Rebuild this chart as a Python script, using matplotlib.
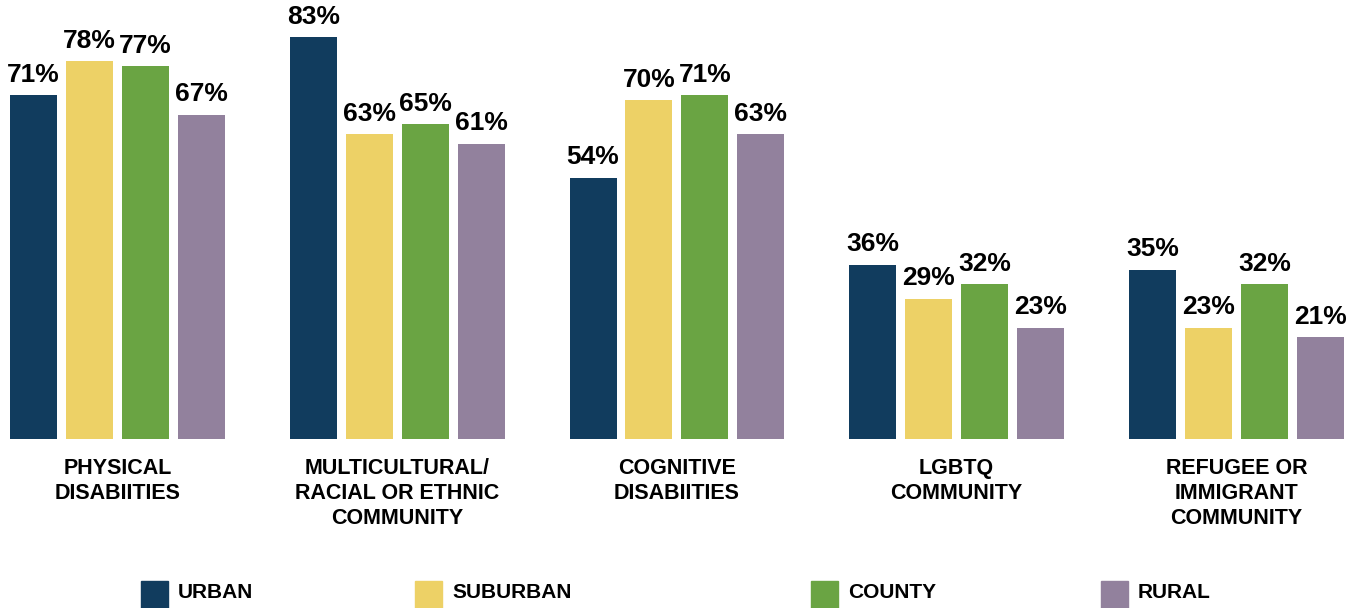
import matplotlib
matplotlib.use("Agg")
import matplotlib.pyplot as plt
from matplotlib.patches import Rectangle

plt.rcParams['font.family'] = ['Liberation Sans', 'DejaVu Sans']
plt.rcParams['font.weight'] = 'bold'

categories = ["PHYSICAL\nDISABIITIES",
              "MULTICULTURAL/\nRACIAL OR ETHNIC\nCOMMUNITY",
              "COGNITIVE\nDISABIITIES",
              "LGBTQ\nCOMMUNITY",
              "REFUGEE OR\nIMMIGRANT\nCOMMUNITY"]
series = ["URBAN", "SUBURBAN", "COUNTY", "RURAL"]
urban = [71, 83, 54, 36, 35]
suburban = [78, 63, 70, 29, 23]
county = [77, 65, 71, 32, 32]
rural = [67, 61, 63, 23, 21]
colors = ["#113c5e", "#edd166", "#6aa443", "#92819d"]

W, H = 1357, 608
fig = plt.figure(figsize=(W / 100, H / 100), dpi=100)
base = 439
ax = fig.add_axes([0, (H - base) / H, 1, base / H])
ax.set_ylim(0, base / 4.84)
slot = 55.95
x0 = 33.5
ax.set_xlim(-x0 / slot, (W - x0) / slot)
ax.axis('off')

for j, (name, vals) in enumerate(zip(series, [urban, suburban, county, rural])):
    xs = [i * 5 + j for i in range(len(categories))]
    bars = ax.bar(xs, vals, width=47 / slot, color=colors[j], label=name)
    for b, v in zip(bars, vals):
        ax.annotate(f"{v}%", (b.get_x() + b.get_width() / 2, v),
                    xytext=(0, 6), textcoords='offset points',
                    ha='center', va='bottom', fontsize=19, fontweight='bold')

for i, cat in enumerate(categories):
    ax.annotate(cat, (i * 5 + 1.5, 0), xytext=(0, -14), textcoords='offset points',
                ha='center', va='top', fontsize=15.5, fontweight='bold',
                linespacing=1.24, annotation_clip=False)

# legend along the bottom
leg_x = [141, 415, 811, 1101]
for lx, name, c in zip(leg_x, series, colors):
    fig.patches.append(Rectangle((lx / W, 0), 27 / W, 27 / H, color=c,
                                 transform=fig.transFigure))
    fig.text((lx + 37) / W, (H - 593) / H, name, ha='left', va='center',
             fontsize=15, fontweight='bold')

fig.savefig("out.png", dpi=100)
